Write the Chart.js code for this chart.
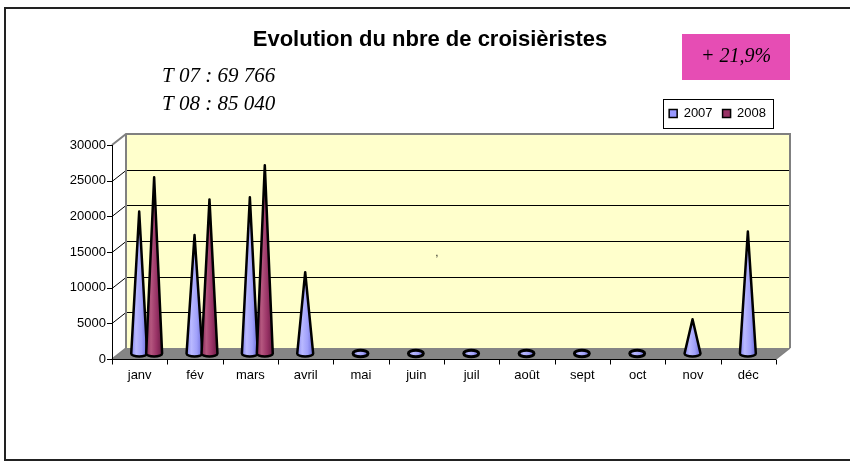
<!DOCTYPE html>
<html><head><meta charset="utf-8">
<script src="https://cdn.jsdelivr.net/npm/chart.js@4/dist/chart.umd.min.js"></script>
<style>html,body{margin:0;padding:0;background:#fff}#wrap{width:850px;height:462px;position:relative}</style>
</head><body><div id="wrap"><canvas id="c"></canvas></div>
<script>
const categories = ['janv','fév','mars','avril','mai','juin','juil','août','sept','oct','nov','déc'];
const values2007 = [19900, 16600, 21900, 11400, 0, 0, 0, 0, 0, 0, 4800, 17100];
const values2008 = [24700, 21600, 26400, null, null, null, null, null, null, null, null, null];
const seriesNames = ['2007', '2008'];
const yTickValues = [0, 5000, 10000, 15000, 20000, 25000, 30000];
const chartTitle = 'Evolution du nbre de croisièristes';
const totalsLines = ['T 07 : 69 766', 'T 08 : 85 040'];
const growthLabel = '+ 21,9%';
const strayMark = ',';

const colors = ['#9999ff', '#993366'];
const coneStops = [
  ['#8585ee', '#b9b9ff', '#a0a0fa', '#6a6ad6'],
  ['#7d2452', '#b5577f', '#993366', '#6a1c44']
];
const DX = 14, DY = -11;
const axisFont = {family: 'Liberation Sans', size: 13};

// widest y label, so right-aligned mirrored labels sit just left of the axis
const mctx = document.createElement('canvas').getContext('2d');
mctx.font = axisFont.size + 'px "' + axisFont.family + '"';
const widestY = Math.max(...yTickValues.map(v => mctx.measureText(String(v)).width));

function line(ctx, x1, y1, x2, y2) { ctx.beginPath(); ctx.moveTo(x1, y1); ctx.lineTo(x2, y2); ctx.stroke(); }

const scene = {
  id: 'scene',
  beforeDatasetsDraw(chart) {
    const {ctx, chartArea: a, scales: {x, y}} = chart;
    const L = a.left, R = a.right, T = a.top, B = a.bottom;
    ctx.save();
    ctx.fillStyle = '#ffffcc';
    ctx.fillRect(L + DX, T + DY, R - L, B - T);
    ctx.fillStyle = '#858585';
    ctx.beginPath(); ctx.moveTo(L, B); ctx.lineTo(R, B); ctx.lineTo(R + DX, B + DY); ctx.lineTo(L + DX, B + DY); ctx.closePath(); ctx.fill();
    ctx.strokeStyle = '#000'; ctx.lineWidth = 1;
    const maxV = yTickValues[yTickValues.length - 1];
    yTickValues.forEach(v => {
      if (v === 0 || v === maxV) return;
      const py = Math.round(y.getPixelForValue(v)) + 0.5;
      line(ctx, L, py, L + DX, py + DY);
      line(ctx, L + DX, py + DY, R + DX, py + DY);
    });
    ctx.strokeStyle = '#808080'; ctx.lineWidth = 2;
    ctx.beginPath(); ctx.moveTo(L, T); ctx.lineTo(L + DX, T + DY); ctx.lineTo(R + DX, T + DY); ctx.lineTo(R + DX, B + DY); ctx.stroke();
    line(ctx, L + DX, T + DY, L + DX, B + DY);
    ctx.lineWidth = 1.5;
    line(ctx, R, B, R + DX, B + DY);
    line(ctx, L, B, L + DX, B + DY);
    ctx.strokeStyle = '#000'; ctx.lineWidth = 1;
    line(ctx, L + 0.5, T, L + 0.5, B + 1);
    yTickValues.forEach(v => {
      const py = Math.round(y.getPixelForValue(v)) + 0.5;
      line(ctx, L - 5, py, L + 1, py);
    });
    const by = Math.round(B) + 0.5;
    line(ctx, L, by, R, by);
    const n = categories.length;
    for (let i = 0; i <= n; i++) {
      const px = Math.round(L + i * (R - L) / n) + 0.5;
      line(ctx, px, by, px, by + 5);
    }
    ctx.restore();
  },
  beforeDatasetDraw() { return false; },
  afterDatasetsDraw(chart) {
    const {ctx} = chart;
    ctx.save();
    chart.data.datasets.forEach((ds, di) => {
      const meta = chart.getDatasetMeta(di);
      meta.data.forEach((bar, i) => {
        const v = ds.data[i];
        if (v === null || v === undefined) return;
        const p = bar.getProps(['x', 'y', 'base', 'width'], true);
        const cx = p.x + DX / 2, base = p.base + DY / 2, tip = p.y + DY / 2;
        const r = p.width / 2 + 0.5;
        const g = ctx.createLinearGradient(cx - r, 0, cx + r, 0);
        const st = coneStops[di];
        g.addColorStop(0, st[0]); g.addColorStop(0.3, st[1]); g.addColorStop(0.65, st[2]); g.addColorStop(1, st[3]);
        ctx.fillStyle = g; ctx.strokeStyle = '#000'; ctx.lineJoin = 'round';
        ctx.beginPath();
        if (base - tip < 1) {
          ctx.lineWidth = 3;
          ctx.ellipse(cx, base, r - 0.5, 3.2, 0, 0, Math.PI * 2);
        } else {
          ctx.lineWidth = 2.5;
          ctx.moveTo(cx - r, base);
          ctx.lineTo(cx, tip);
          ctx.lineTo(cx + r, base);
          ctx.ellipse(cx, base, r, 3, 0, 0, Math.PI, false);
          ctx.closePath();
        }
        ctx.fill(); ctx.stroke();
      });
    });
    ctx.restore();
  },
  afterDraw(chart) {
    const {ctx} = chart;
    ctx.save();
    ctx.strokeStyle = '#222'; ctx.lineWidth = 2;
    ctx.beginPath(); ctx.moveTo(850, 8); ctx.lineTo(5, 8); ctx.lineTo(5, 460); ctx.lineTo(850, 460); ctx.stroke();
    const hb = chart.legend.legendHitBoxes;
    if (hb && hb.length) {
      const l = hb[0].left - 6, r = hb[hb.length - 1].left + hb[hb.length - 1].width + 7;
      const t = hb[0].top - 8, b = hb[0].top + hb[0].height + 8;
      ctx.strokeStyle = '#000'; ctx.lineWidth = 1;
      ctx.strokeRect(Math.round(l) + 0.5, Math.round(t) + 0.5, Math.round(r - l), Math.round(b - t));
    }
    ctx.fillStyle = '#000';
    ctx.font = 'italic 21px "Liberation Serif"';
    ctx.textAlign = 'left'; ctx.textBaseline = 'middle';
    ctx.fillText(totalsLines[0], 162, 76);
    ctx.fillText(totalsLines[1], 162, 104);
    ctx.fillStyle = '#e64db4';
    ctx.fillRect(682, 34, 108, 46);
    ctx.fillStyle = '#000';
    ctx.font = 'italic 20px "Liberation Serif"';
    ctx.textAlign = 'center';
    ctx.fillText(growthLabel, 736, 57);
    ctx.font = '10px "Liberation Sans"';
    ctx.fillText(strayMark, 437, 253);
    ctx.restore();
  }
};

new Chart(document.getElementById('c'), {
  type: 'bar',
  data: {
    labels: categories,
    datasets: [
      {label: seriesNames[0], data: values2007, backgroundColor: colors[0], borderColor: '#000', borderWidth: 1.5},
      {label: seriesNames[1], data: values2008, backgroundColor: colors[1], borderColor: '#000', borderWidth: 1.5}
    ]
  },
  options: {
    responsive: true, maintainAspectRatio: false, animation: false,
    datasets: {bar: {categoryPercentage: 0.54, barPercentage: 1}},
    layout: {padding: {left: 84, right: 74, top: 0, bottom: 73}},
    plugins: {
      title: {display: true, text: chartTitle, color: '#000', font: {family: 'Liberation Sans', size: 22, weight: 'bold', lineHeight: 1.2}, padding: {top: 27, bottom: 43.6}},
      legend: {display: true, position: 'top', align: 'end',
        labels: {color: '#000', boxWidth: 8, boxHeight: 8, padding: 10, font: {family: 'Liberation Sans', size: 13}}},
      subtitle: {display: true, text: '', weight: 500, font: {size: 10, lineHeight: 1}, padding: {top: 0, bottom: 5}},
      tooltip: {enabled: false}
    },
    scales: {
      x: {
        grid: {display: false, drawTicks: false}, border: {display: false},
        ticks: {color: '#000', padding: 9, font: axisFont},
        afterFit(s) { s.height = 30; }
      },
      y: {
        min: 0, max: 30000,
        grid: {display: false, drawTicks: false}, border: {display: false},
        ticks: {color: '#000', stepSize: 5000, font: axisFont, mirror: true, crossAlign: 'far', padding: -(6 + widestY),
          callback: v => String(v)},
        afterFit(s) { s.width = 28; }
      }
    }
  },
  plugins: [scene]
});
</script>
</body></html>
